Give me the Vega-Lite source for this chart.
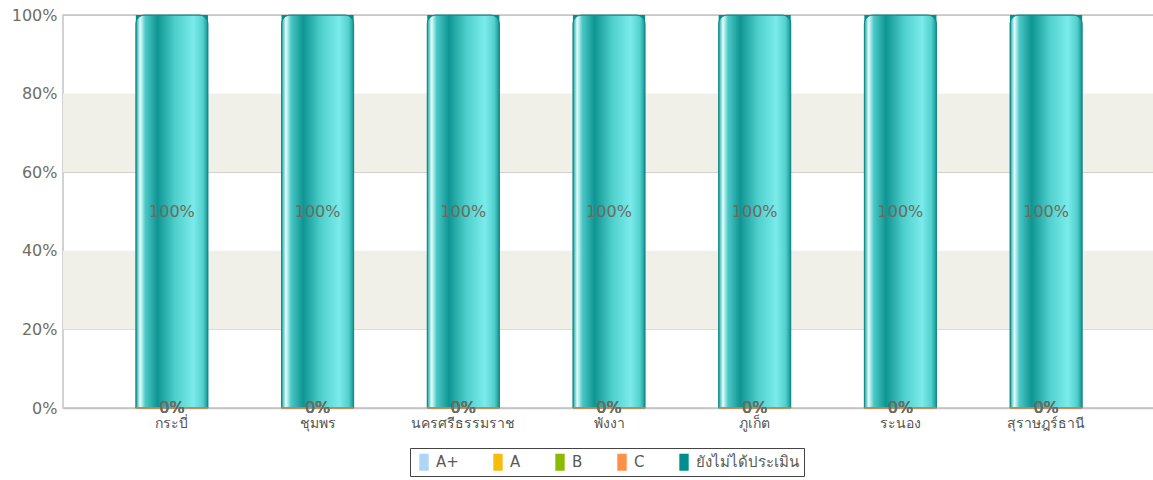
{
  "$schema": "https://vega.github.io/schema/vega-lite/v6.json",
  "autosize": {"type": "none"},
  "padding": {"left": 63, "top": 15, "right": 0, "bottom": 72},
  "width": 1092,
  "height": 393,
  "background": "#ffffff",
  "config": {
    "view": {"stroke": "#c4c4c4", "strokeWidth": 1.5},
    "font": "DejaVu Sans",
    "axisY": {
      "tickCount": 5, "format": ".0%", "ticks": false, "domain": false,
      "grid": true, "gridColor": "#c9c9bf", "gridWidth": 1,
      "labelFont": "DejaVu Sans", "labelFontSize": 16, "labelColor": "#6e6e62", "labelPadding": 6
    },
    "axisX": {
      "labelAngle": 0, "ticks": false, "grid": false,
      "domainColor": "#c4c4c4", "domainWidth": 1.5,
      "labelFont": "Noto Sans", "labelFontSize": 14, "labelColor": "#555550", "labelPadding": 8
    }
  },
  "datasets": {
    "grades": [
      {"province": "กระบี่", "grade": "A+", "share": 0},
      {"province": "กระบี่", "grade": "A", "share": 0},
      {"province": "กระบี่", "grade": "B", "share": 0},
      {"province": "กระบี่", "grade": "C", "share": 0},
      {"province": "กระบี่", "grade": "ยังไม่ได้ประเมิน", "share": 1},
      {"province": "ชุมพร", "grade": "A+", "share": 0},
      {"province": "ชุมพร", "grade": "A", "share": 0},
      {"province": "ชุมพร", "grade": "B", "share": 0},
      {"province": "ชุมพร", "grade": "C", "share": 0},
      {"province": "ชุมพร", "grade": "ยังไม่ได้ประเมิน", "share": 1},
      {"province": "นครศรีธรรมราช", "grade": "A+", "share": 0},
      {"province": "นครศรีธรรมราช", "grade": "A", "share": 0},
      {"province": "นครศรีธรรมราช", "grade": "B", "share": 0},
      {"province": "นครศรีธรรมราช", "grade": "C", "share": 0},
      {"province": "นครศรีธรรมราช", "grade": "ยังไม่ได้ประเมิน", "share": 1},
      {"province": "พังงา", "grade": "A+", "share": 0},
      {"province": "พังงา", "grade": "A", "share": 0},
      {"province": "พังงา", "grade": "B", "share": 0},
      {"province": "พังงา", "grade": "C", "share": 0},
      {"province": "พังงา", "grade": "ยังไม่ได้ประเมิน", "share": 1},
      {"province": "ภูเก็ต", "grade": "A+", "share": 0},
      {"province": "ภูเก็ต", "grade": "A", "share": 0},
      {"province": "ภูเก็ต", "grade": "B", "share": 0},
      {"province": "ภูเก็ต", "grade": "C", "share": 0},
      {"province": "ภูเก็ต", "grade": "ยังไม่ได้ประเมิน", "share": 1},
      {"province": "ระนอง", "grade": "A+", "share": 0},
      {"province": "ระนอง", "grade": "A", "share": 0},
      {"province": "ระนอง", "grade": "B", "share": 0},
      {"province": "ระนอง", "grade": "C", "share": 0},
      {"province": "ระนอง", "grade": "ยังไม่ได้ประเมิน", "share": 1},
      {"province": "สุราษฎร์ธานี", "grade": "A+", "share": 0},
      {"province": "สุราษฎร์ธานี", "grade": "A", "share": 0},
      {"province": "สุราษฎร์ธานี", "grade": "B", "share": 0},
      {"province": "สุราษฎร์ธานี", "grade": "C", "share": 0},
      {"province": "สุราษฎร์ธานี", "grade": "ยังไม่ได้ประเมิน", "share": 1}
    ],
    "bands": [
      {"lo": 0.2, "hi": 0.4},
      {"lo": 0.6, "hi": 0.8}
    ]
  },
  "resolve": {"scale": {"y": "independent"}},
  "layer": [
    {
      "layer": [
        {
          "data": {"name": "bands"},
          "mark": {"type": "rect", "fill": "#f0f0e9"},
          "encoding": {
            "y": {"field": "lo", "type": "quantitative", "title": null, "scale": {"domain": [0, 1]}},
            "y2": {"field": "hi"}
          }
        },
        {
          "data": {"name": "grades"},
          "mark": {"type": "bar"},
          "encoding": {
            "x": {"field": "province", "type": "nominal", "sort": null, "title": null,
              "scale": {"paddingInner": 0.505, "paddingOuter": 0.5}},
            "y": {"field": "share", "type": "quantitative", "stack": "zero", "title": null, "scale": {"domain": [0, 1]}},
            "color": {"field": "grade", "type": "nominal",
              "sort": ["A+", "A", "B", "C", "ยังไม่ได้ประเมิน"],
              "scale": {"domain": ["A+", "A", "B", "C", "ยังไม่ได้ประเมิน"],
                "range": ["#acd6f6", "#f6bd0f", "#8bba00", "#ff8e46", "#008e8e"]},
              "legend": {
                "title": null, "orient": "none", "direction": "horizontal",
                "legendX": 347, "legendY": 433,
                "fillColor": "#ffffff", "strokeColor": "#444444",
                "padding": 5,
                "symbolType": "M-0.55,-1H0.55V1H-0.55Z", "symbolSize": 290,
                "symbolStrokeWidth": 0, "symbolOpacity": 1,
                "labelFontSize": 15, "labelColor": "#5a5a55", "labelFont": "DejaVu Sans",
                "labelOffset": 3, "columnPadding": 30
              }
            }
          }
        },
        {
          "data": {"name": "grades"},
          "transform": [{"filter": "datum.grade === 'ยังไม่ได้ประเมิน'"}],
          "mark": {
            "type": "bar",
            "cornerRadiusTopLeft": 9, "cornerRadiusTopRight": 9,
            "stroke": "#108a88", "strokeWidth": 1,
            "fill": {
              "gradient": "linear", "x1": 0, "x2": 1, "y1": 0, "y2": 0,
              "stops": [
                {"offset": 0, "color": "#169f9d"},
                {"offset": 0.06, "color": "#e4ffff"},
                {"offset": 0.13, "color": "#4cc9c7"},
                {"offset": 0.3, "color": "#0e9593"},
                {"offset": 0.55, "color": "#4fd0cd"},
                {"offset": 0.8, "color": "#7aebea"},
                {"offset": 0.93, "color": "#52d0ce"},
                {"offset": 1, "color": "#149491"}
              ]
            }
          },
          "encoding": {
            "x": {"field": "province", "type": "nominal", "sort": null, "title": null},
            "y": {"field": "share", "type": "quantitative", "title": null, "scale": {"domain": [0, 1]}}
          }
        },
        {
          "data": {"name": "grades"},
          "transform": [{"filter": "datum.grade === 'C'"}],
          "mark": {"type": "bar", "stroke": "#d8884a", "strokeWidth": 1.5, "fill": "#ff8e46"},
          "encoding": {
            "x": {"field": "province", "type": "nominal", "sort": null, "title": null},
            "y": {"field": "share", "type": "quantitative", "title": null, "scale": {"domain": [0, 1]}}
          }
        },
        {
          "data": {"name": "grades"},
          "transform": [{"filter": "datum.share === 0"}],
          "mark": {"type": "text", "fontSize": 16, "color": "#6b6b60", "baseline": "middle"},
          "encoding": {
            "x": {"field": "province", "type": "nominal", "sort": null, "title": null},
            "y": {"field": "share", "type": "quantitative", "title": null, "scale": {"domain": [0, 1]}},
            "text": {"field": "share", "type": "quantitative", "format": ".0%"}
          }
        }
      ]
    },
    {
      "data": {"name": "grades"},
      "transform": [{"filter": "datum.grade === 'ยังไม่ได้ประเมิน'"}],
      "mark": {"type": "text", "fontSize": 16, "color": "#6b6b60", "baseline": "middle"},
      "encoding": {
        "x": {"field": "province", "type": "nominal", "sort": null, "title": null},
        "y": {"field": "share", "type": "quantitative", "scale": {"domain": [0, 2]}, "axis": null},
        "text": {"field": "share", "type": "quantitative", "format": ".0%"}
      }
    }
  ]
}
